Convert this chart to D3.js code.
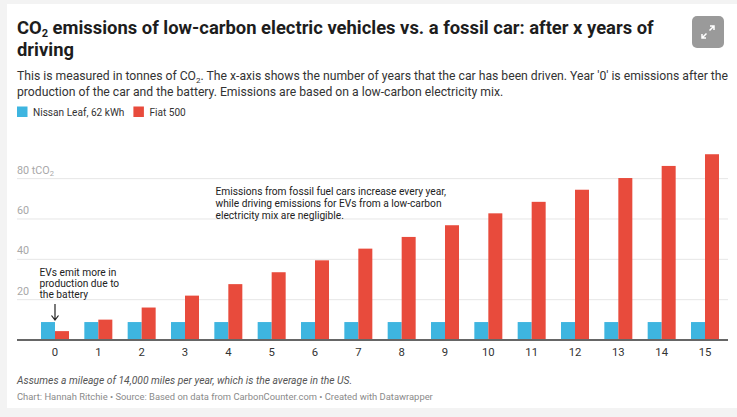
<!DOCTYPE html>
<html>
<head>
<meta charset="utf-8">
<script src="https://cdn.jsdelivr.net/npm/d3@7"></script>
<style>
  body { margin: 0; background: #f3f3f3; font-family: Roboto, sans-serif; }
  svg { display: block; }
</style>
</head>
<body>
<svg id="drawing_region"></svg>
<script>
// years driven
const years = [0, 1, 2, 3, 4, 5, 6, 7, 8, 9, 10, 11, 12, 13, 14, 15];
// tonnes of CO2
const nissanLeaf = [8.9, 8.9, 8.9, 8.9, 8.9, 8.9, 8.9, 8.9, 8.9, 8.9, 8.9, 8.9, 8.9, 8.9, 8.9, 8.9];
const fiat500 = [4.4, 10.1, 16.1, 22.0, 27.7, 33.6, 39.5, 45.3, 51.1, 56.9, 62.8, 68.5, 74.5, 80.3, 86.3, 92.1];
const yTicks = [20, 40, 60, 80];
const seriesNames = ["Nissan Leaf, 62 kWh", "Fiat 500"];
const seriesColors = ["#3eb5e0", "#e84b3c"];

const W = 737, H = 417;
const svg = d3.select('#drawing_region').attr('width', W).attr('height', H);

// white card
svg.append('rect').attr('x', 7).attr('y', 4).attr('width', W - 7).attr('height', 404).attr('fill', '#fff');

// expand button
const btn = svg.append('g').attr('transform', 'translate(692,16)');
btn.append('rect').attr('width', 32).attr('height', 32).attr('rx', 5).attr('fill', '#9a9a9a');
btn.append('path')
  .attr('d', 'M17.5,14.5 L22,10 M18,10 L22,10 L22,14 M14.5,17.5 L10,22 M10,18 L10,22 L14,22')
  .attr('stroke', '#fff').attr('stroke-width', 1.5).attr('fill', 'none');

// title (two lines)
const title = svg.append('text').attr('font-size', '18.4px').attr('font-weight', 700).attr('fill', '#1d1d1d');
const t1 = title.append('tspan').attr('x', 17).attr('y', 34);
t1.append('tspan').text('CO');
t1.append('tspan').attr('font-size', '11px').attr('dy', 2.5).text('2');
t1.append('tspan').attr('dy', -2.5).text(' emissions of low-carbon electric vehicles vs. a fossil car: after x years of');
title.append('tspan').attr('x', 17).attr('y', 55.5).text('driving');

// subtitle
const sub = svg.append('text').attr('font-size', '12.2px').attr('fill', '#333');
const s1 = sub.append('tspan').attr('x', 17).attr('y', 80);
s1.append('tspan').text('This is measured in tonnes of CO');
s1.append('tspan').attr('font-size', '8px').attr('dy', 2.5).text('2');
s1.append('tspan').attr('dy', -2.5).text(". The x-axis shows the number of years that the car has been driven. Year '0' is emissions after the");
sub.append('tspan').attr('x', 17).attr('y', 96)
  .text('production of the car and the battery. Emissions are based on a low-carbon electricity mix.');

// legend
const legend = svg.append('g').attr('transform', 'translate(17,106.5)');
let lx = 0;
seriesNames.forEach((name, i) => {
  legend.append('rect').attr('x', lx).attr('y', 0).attr('width', 10.5).attr('height', 10.5).attr('fill', seriesColors[i]);
  const t = legend.append('text').attr('x', lx + 16).attr('y', 9.5).attr('font-size', '10.1px').attr('fill', '#333').text(name);
  lx += 16 + t.node().getComputedTextLength() + 9;
});

// chart area
const margin = {left: 17, right: 9, top: 150, bottom: 77};
const innerW = W - margin.left - margin.right;
const innerH = H - margin.top - margin.bottom;
const chart = svg.append('g').attr('transform', `translate(${margin.left},${margin.top})`);

const yscale = d3.scaleLinear().domain([0, 94.2]).range([innerH, 0]);
const xscale = d3.scaleBand().domain(years).range([24, 702]).paddingInner(0.354).paddingOuter(0);
const sub_x = d3.scaleBand().domain([0, 1]).range([0, xscale.bandwidth()]);

// gridlines + labels
chart.append('g').selectAll('line').data(yTicks).join('line')
  .attr('x1', 0).attr('x2', innerW)
  .attr('y1', d => yscale(d)).attr('y2', d => yscale(d))
  .attr('stroke', '#e6e6e6').attr('stroke-width', 1);

const ylab = chart.append('g').selectAll('text').data(yTicks).join('text')
  .attr('x', 0).attr('y', d => yscale(d) - 5)
  .attr('font-size', '10.8px').attr('fill', '#a8a8a8');
ylab.append('tspan').text(d => d === 80 ? '80 tCO' : d);
ylab.filter(d => d === 80).append('tspan').attr('font-size', '7.5px').attr('dy', 2.5).text('2');

// bars
const rows = years.map((y, i) => ({year: y, values: [nissanLeaf[i], fiat500[i]]}));
const groups = chart.append('g').selectAll('g').data(rows).join('g')
  .attr('transform', d => `translate(${xscale(d.year)},0)`);
groups.selectAll('rect').data(d => d.values).join('rect')
  .attr('x', (d, i) => sub_x(i))
  .attr('width', sub_x.bandwidth())
  .attr('y', d => yscale(d))
  .attr('height', d => innerH - yscale(d))
  .attr('fill', (d, i) => seriesColors[i]);

// baseline
chart.append('line').attr('x1', 0).attr('x2', innerW).attr('y1', innerH).attr('y2', innerH)
  .attr('stroke', '#666').attr('stroke-width', 2);

// x axis
const xaxis = d3.axisBottom(xscale).tickSize(0).tickPadding(7);
const xg = chart.append('g').attr('transform', `translate(0,${innerH + 1})`).call(xaxis);
xg.select('.domain').remove();
xg.selectAll('text').attr('font-size', '11.3px').attr('fill', '#333').attr('font-family', 'Roboto, sans-serif');

// annotations
const note1 = ['Emissions from fossil fuel cars increase every year,',
  'while driving emissions for EVs from a low-carbon',
  'electricity mix are negligible.'];
chart.append('text').attr('font-size', '10.2px').attr('fill', '#222')
  .selectAll('tspan').data(note1).join('tspan')
  .attr('x', 198.5).attr('y', (d, i) => 44.5 + i * 12.4).text(d => d);

const note2 = ['EVs emit more in', 'production due to', 'the battery'];
chart.append('text').attr('font-size', '10.2px').attr('fill', '#222')
  .selectAll('tspan').data(note2).join('tspan')
  .attr('x', 22.5).attr('y', (d, i) => 126 + i * 10.8).text(d => d);

// arrow
const ax = xscale(0) + xscale.bandwidth() / 2;
chart.append('path').attr('d', `M${ax},154 L${ax},170 M${ax - 3.5},165.5 L${ax},170 L${ax + 3.5},165.5`)
  .attr('stroke', '#222').attr('stroke-width', 1.2).attr('fill', 'none');

// footer
svg.append('text').attr('x', 17).attr('y', 384).attr('font-size', '10.3px').attr('font-style', 'italic').attr('fill', '#555')
  .text('Assumes a mileage of 14,000 miles per year, which is the average in the US.');
svg.append('text').attr('x', 17).attr('y', 400).attr('font-size', '9.4px').attr('fill', '#8a8a8a')
  .text('Chart: Hannah Ritchie • Source: Based on data from CarbonCounter.com • Created with Datawrapper');
</script>
</body>
</html>
